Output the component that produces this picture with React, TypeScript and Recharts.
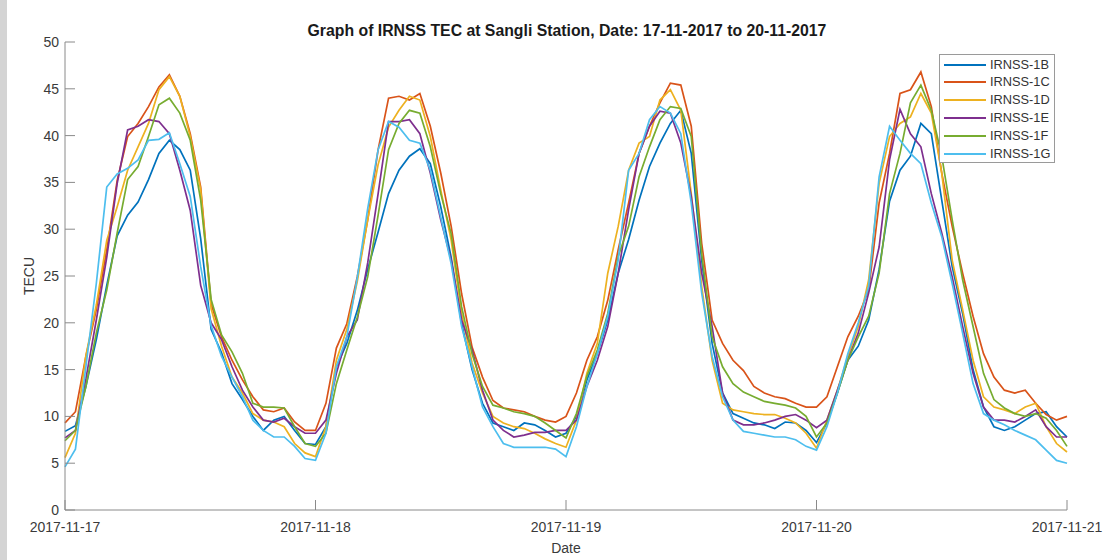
import { LineChart, Line, XAxis, YAxis } from "recharts";

// hourly TEC readings (TECU), hour 0 = 2017-11-17 00:00, last = 2017-11-21 00:00
const IRNSS_1B = [
  8.4, 9.0, 13.2, 18.2, 24.0, 29.3, 31.5, 32.9, 35.3, 38.1, 39.5, 38.5, 36.3, 29.0, 19.3, 16.8, 13.5, 11.8, 10.0, 8.5, 9.6, 10.0, 8.5, 7.1,
  7.0, 8.9, 15.3, 17.8, 21.3, 25.7, 29.7, 33.8, 36.3, 37.8, 38.6, 37.0, 32.4, 27.0, 19.9, 15.0, 11.4, 9.3, 8.9, 8.5, 9.3, 9.1, 8.5, 7.8,
  8.2, 10.0, 13.9, 16.7, 20.3, 25.3, 28.9, 33.1, 36.7, 39.2, 41.3, 42.7, 38.1, 26.7, 17.8, 12.5, 10.3, 9.8, 9.3, 9.1, 8.7, 9.4, 9.3, 8.5,
  7.2, 9.3, 12.5, 16.0, 17.5, 20.3, 25.7, 33.0, 36.3, 37.8, 41.3, 40.2, 33.1, 26.0, 21.0, 15.0, 11.0, 8.9, 8.5, 8.9, 9.6, 10.3, 10.5, 8.9,
  7.8,
];
const IRNSS_1C = [
  9.3, 10.5, 16.4, 21.4, 27.8, 35.2, 39.9, 41.3, 43.1, 45.2, 46.5, 44.2, 40.2, 34.5, 22.0, 18.5, 16.0, 13.9, 12.1, 10.7, 10.5, 10.9, 9.4, 8.5,
  8.5, 11.4, 17.3, 19.9, 24.9, 31.0, 38.5, 44.0, 44.2, 43.8, 44.5, 41.0, 36.0, 30.3, 23.1, 17.4, 14.2, 11.7, 10.9, 10.7, 10.5, 10.0, 9.6, 9.4,
  10.0, 12.5, 16.0, 18.5, 22.4, 27.8, 32.8, 38.1, 41.0, 43.5, 45.6, 45.4, 41.0, 28.5, 20.3, 17.8, 16.0, 14.9, 13.2, 12.5, 12.1, 11.9, 11.4, 11.0,
  11.0, 12.1, 15.3, 18.5, 20.7, 23.5, 32.8, 38.1, 44.5, 44.9, 46.8, 43.1, 36.0, 30.3, 25.3, 20.7, 16.7, 14.2, 12.8, 12.5, 12.8, 11.4, 10.2, 9.6,
  10.0,
];
const IRNSS_1D = [
  5.6, 8.2, 16.5, 21.9, 28.8, 32.4, 36.3, 38.8, 41.3, 44.9, 46.3, 44.2, 39.9, 34.2, 21.5, 17.5, 14.2, 12.5, 10.3, 9.6, 9.4, 8.9, 7.1, 6.1,
  5.7, 8.9, 16.0, 19.3, 24.4, 31.0, 36.9, 40.9, 42.7, 44.2, 43.8, 39.9, 34.2, 28.8, 21.0, 15.7, 12.5, 10.0, 9.3, 8.9, 8.7, 8.2, 7.6, 7.1,
  6.7, 9.6, 14.6, 17.8, 25.3, 30.3, 36.3, 39.2, 39.9, 43.8, 44.9, 42.7, 33.8, 23.9, 16.0, 11.4, 10.7, 10.5, 10.3, 10.2, 10.2, 9.8, 9.3, 8.2,
  6.6, 9.6, 12.8, 16.4, 19.6, 24.6, 34.9, 39.9, 41.3, 42.0, 44.5, 42.4, 36.0, 26.7, 21.4, 16.0, 12.1, 11.0, 10.7, 10.3, 11.0, 11.4, 8.9, 7.1,
  6.2,
];
const IRNSS_1E = [
  7.7, 8.5, 14.0, 20.3, 27.0, 34.9, 40.6, 41.0, 41.7, 41.5, 40.2, 36.3, 32.0, 24.0, 20.0, 18.2, 15.3, 12.8, 11.0, 9.6, 9.4, 9.8, 8.9, 8.2,
  8.2, 9.6, 14.6, 18.5, 20.3, 26.4, 33.8, 41.5, 41.5, 41.7, 40.2, 36.0, 31.0, 26.7, 20.3, 17.1, 12.8, 9.6, 8.5, 7.8, 8.0, 8.3, 8.3, 8.5,
  8.5, 9.6, 13.2, 16.0, 19.6, 25.3, 32.1, 38.1, 41.0, 42.6, 42.4, 39.2, 33.5, 25.3, 19.6, 12.5, 9.6, 9.1, 9.1, 9.3, 9.6, 10.0, 10.2, 9.6,
  8.8, 9.6, 12.8, 16.0, 18.9, 23.2, 28.1, 37.4, 42.8, 40.2, 38.8, 33.8, 29.6, 24.9, 19.6, 14.6, 11.0, 9.6, 9.6, 9.4, 10.0, 10.7, 8.9, 7.8,
  7.8,
];
const IRNSS_1F = [
  7.4, 8.5, 13.2, 18.9, 23.5, 29.6, 35.3, 36.7, 39.9, 43.3, 44.0, 42.4, 39.5, 33.1, 22.5, 18.7, 16.9, 14.6, 11.4, 11.0, 11.0, 10.9, 8.9, 7.1,
  6.8, 8.2, 13.5, 17.1, 20.6, 24.9, 31.5, 38.5, 41.3, 42.7, 42.4, 38.8, 33.8, 29.5, 21.7, 16.7, 13.2, 11.2, 10.9, 10.5, 10.3, 10.0, 9.3, 8.5,
  7.7, 10.3, 14.3, 17.1, 21.0, 27.1, 30.3, 35.6, 38.8, 41.7, 43.1, 42.9, 39.9, 27.4, 18.5, 15.3, 13.5, 12.6, 12.1, 11.6, 11.4, 11.2, 10.9, 10.0,
  7.8, 9.3, 12.5, 16.0, 18.5, 20.7, 25.3, 33.8, 38.1, 43.5, 45.4, 42.7, 37.8, 31.0, 24.6, 19.6, 14.6, 11.8, 10.9, 10.3, 10.0, 10.3, 9.8, 8.5,
  6.8,
];
const IRNSS_1G = [
  4.6, 6.5, 15.3, 24.2, 34.5, 35.9, 36.5, 37.4, 39.5, 39.6, 40.3, 37.0, 33.5, 26.0, 19.7, 16.4, 14.2, 12.1, 9.6, 8.5, 7.8, 7.8, 6.8, 5.5,
  5.3, 8.2, 15.3, 18.5, 24.8, 32.2, 38.5, 41.5, 40.9, 39.5, 39.2, 36.3, 31.3, 26.3, 19.6, 15.3, 11.0, 8.9, 7.1, 6.7, 6.7, 6.7, 6.7, 6.5,
  5.7, 8.9, 13.2, 16.7, 20.7, 26.7, 36.3, 38.1, 41.7, 43.1, 42.4, 40.2, 32.8, 23.2, 16.4, 12.1, 9.6, 8.4, 8.2, 8.0, 7.8, 7.8, 7.5, 6.8,
  6.4, 8.9, 12.5, 16.7, 20.0, 23.9, 35.6, 41.0, 39.5, 38.1, 37.0, 32.8, 29.2, 24.2, 18.9, 13.5, 10.3, 9.6, 9.1, 8.5, 8.0, 7.5, 6.4, 5.3,
  5.0,
];

const DAY_TICKS = [0, 24, 48, 72, 96];
const DAY_LABELS = ["2017-11-17", "2017-11-18", "2017-11-19", "2017-11-20", "2017-11-21"];
const Y_TICKS = [0, 5, 10, 15, 20, 25, 30, 35, 40, 45, 50];

const SERIES = [
  { name: "IRNSS-1B", color: "#0072BD", values: IRNSS_1B },
  { name: "IRNSS-1C", color: "#D95319", values: IRNSS_1C },
  { name: "IRNSS-1D", color: "#EDB120", values: IRNSS_1D },
  { name: "IRNSS-1E", color: "#7E2F8E", values: IRNSS_1E },
  { name: "IRNSS-1F", color: "#77AC30", values: IRNSS_1F },
  { name: "IRNSS-1G", color: "#4DBEEE", values: IRNSS_1G },
];

const chartData = IRNSS_1B.map((_, h) => {
  const row: Record<string, number> = { h };
  SERIES.forEach((s) => {
    row[s.name] = s.values[h];
  });
  return row;
});

const AXIS = "#8a8a8a";
const TEXT = "#3a3a3a";
const FONT = "'Liberation Sans', Arial, Helvetica, sans-serif";

function dayLabel(v: number) {
  return DAY_LABELS[DAY_TICKS.indexOf(v)] ?? "";
}

export default function App() {
  return (
    <div
      style={{
        position: "absolute",
        left: 0,
        top: 0,
        width: 1107,
        height: 560,
        background: "#ffffff",
        fontFamily: FONT,
        overflow: "hidden",
      }}
    >
      <div style={{ position: "absolute", left: 0, top: 0, width: 7, height: 560, background: "#d4d4d4" }} />

      <LineChart
        width={1107}
        height={560}
        data={chartData}
        margin={{ top: 42, right: 40, bottom: 20, left: 8 }}
        style={{ fontFamily: FONT }}
      >
        <XAxis
          dataKey="h"
          type="number"
          domain={[0, 96]}
          ticks={DAY_TICKS}
          interval={0}
          tickFormatter={dayLabel}
          height={30}
          tickSize={-10}
          tickMargin={22}
          stroke={AXIS}
          tick={{ fill: TEXT, fontSize: 14 }}
        />
        <XAxis
          xAxisId="top"
          orientation="top"
          dataKey="h"
          type="number"
          domain={[0, 96]}
          ticks={DAY_TICKS}
          interval={0}
          tickFormatter={() => ""}
          height={0}
          tickSize={-10}
          stroke={AXIS}
        />
        <YAxis
          type="number"
          domain={[0, 50]}
          ticks={Y_TICKS}
          interval={0}
          width={57}
          tickSize={-10}
          tickMargin={16}
          stroke={AXIS}
          tick={{ fill: TEXT, fontSize: 14 }}
        />
        <YAxis
          yAxisId="right"
          orientation="right"
          type="number"
          domain={[0, 50]}
          ticks={Y_TICKS}
          interval={0}
          width={0}
          tickSize={-10}
          tickFormatter={() => ""}
          stroke={AXIS}
        />
        {SERIES.map((s) => (
          <Line
            key={s.name}
            dataKey={s.name}
            type="linear"
            stroke={s.color}
            strokeWidth={1.7}
            dot={false}
            isAnimationActive={false}
          />
        ))}
      </LineChart>

      <div
        style={{
          position: "absolute",
          left: 267,
          width: 600,
          top: 23,
          textAlign: "center",
          fontSize: 15.8,
          lineHeight: "15.8px",
          fontWeight: "bold",
          color: "#1a1a1a",
          whiteSpace: "nowrap",
        }}
      >
        Graph of IRNSS TEC at Sangli Station, Date: 17-11-2017 to 20-11-2017
      </div>

      <div
        style={{
          position: "absolute",
          left: 466,
          width: 200,
          top: 541,
          textAlign: "center",
          fontSize: 14,
          lineHeight: "14px",
          color: TEXT,
        }}
      >
        Date
      </div>

      <div
        style={{
          position: "absolute",
          left: 28.5 - 40,
          top: 276 - 7,
          width: 80,
          height: 14,
          textAlign: "center",
          fontSize: 14,
          lineHeight: "14px",
          color: TEXT,
          transform: "rotate(-90deg)",
          transformOrigin: "40px 7px",
        }}
      >
        TECU
      </div>

      <div
        style={{
          position: "absolute",
          left: 939,
          top: 54,
          width: 116,
          height: 109,
          boxSizing: "border-box",
          border: "1px solid #9a9a9a",
          background: "#ffffff",
        }}
      >
        {SERIES.map((s, i) => (
          <div
            key={s.name}
            style={{
              position: "absolute",
              left: 0,
              top: 1.5 + i * 17.8,
              height: 16,
              width: 114,
            }}
          >
            <div
              style={{
                position: "absolute",
                left: 4,
                top: 7,
                width: 42,
                height: 2,
                background: s.color,
              }}
            />
            <div
              style={{
                position: "absolute",
                left: 50,
                top: 0,
                fontSize: 12.8,
                lineHeight: "16px",
                color: "#333333",
                whiteSpace: "nowrap",
              }}
            >
              {s.name}
            </div>
          </div>
        ))}
      </div>
    </div>
  );
}
